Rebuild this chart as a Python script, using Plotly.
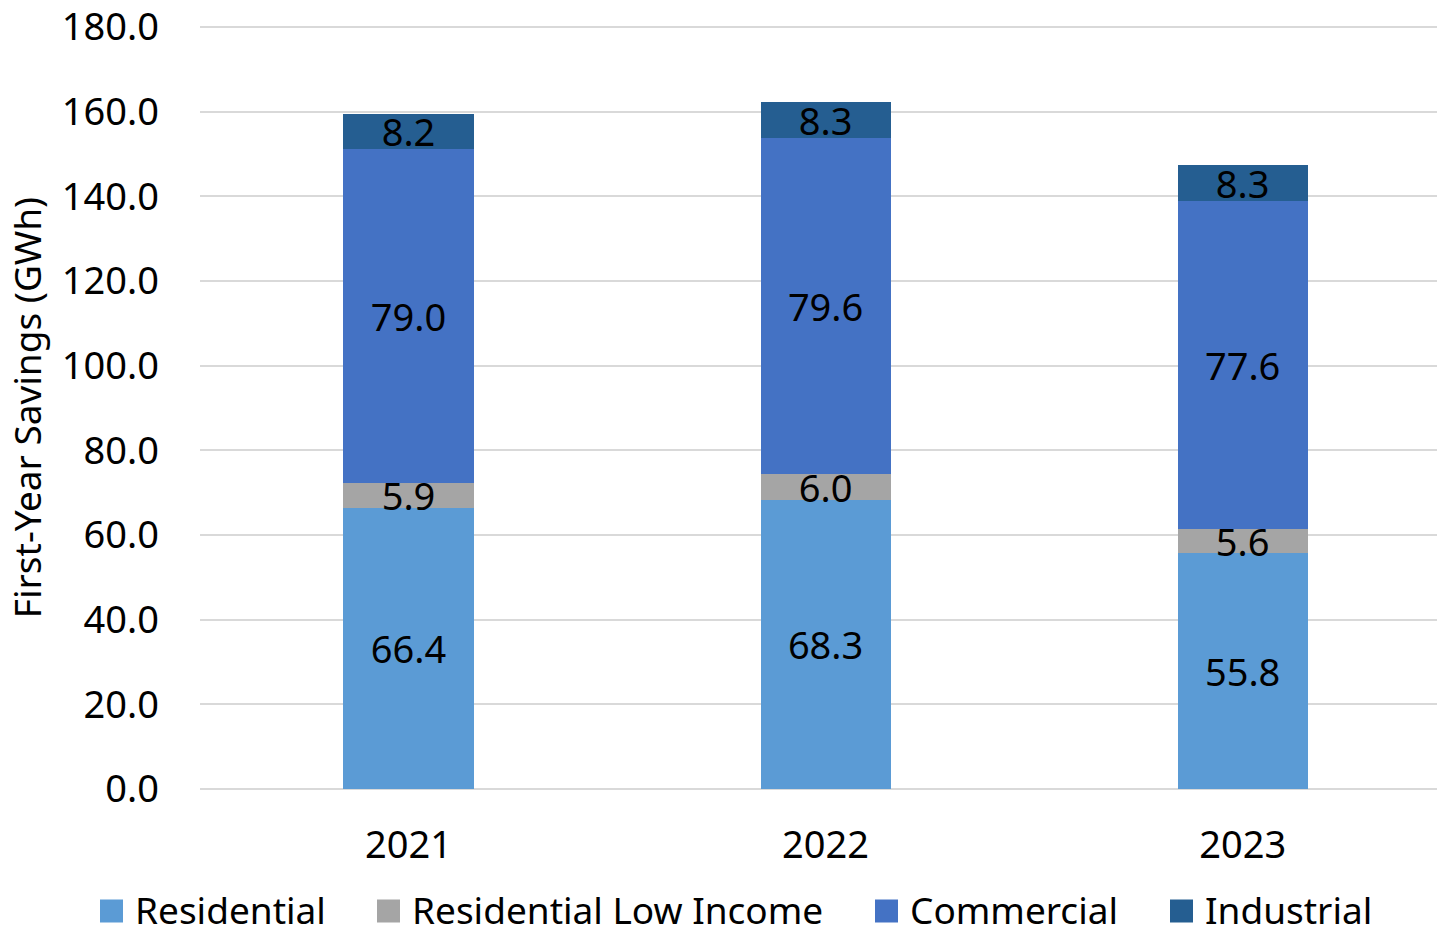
import plotly.graph_objects as go

# Program years and first-year savings by sector (GWh)
years = ["2021", "2022", "2023"]
residential = [66.4, 68.3, 55.8]
residential_low_income = [5.9, 6.0, 5.6]
commercial = [79.0, 79.6, 77.6]
industrial = [8.2, 8.3, 8.3]

y_ticks = [0, 20, 40, 60, 80, 100, 120, 140, 160, 180]

FONT = "Noto Sans"
W, H = 1437, 935
M_L, M_R, M_T, M_B = 200, 0, 26, 146
PLOT_W = W - M_L - M_R
PLOT_H = H - M_T - M_B

series = [
    ("Residential", residential, "#5B9BD5"),
    ("Residential Low Income", residential_low_income, "#A5A5A5"),
    ("Commercial", commercial, "#4472C4"),
    ("Industrial", industrial, "#255E91"),
]

fig = go.Figure()
for name, values, color in series:
    fig.add_trace(go.Bar(
        name=name,
        x=years,
        y=values,
        width=0.312,
        marker=dict(color=color, line=dict(width=0)),
        texttemplate="%{y:.1f}",
        textposition="inside",
        insidetextanchor="middle",
        textangle=0,
        textfont=dict(family=FONT, size=38, color="black"),
        showlegend=False,
    ))


def px_to_paper_x(px):
    return (px - M_L) / PLOT_W


def px_to_paper_y(py):
    return (H - M_B - py) / PLOT_H


# Legend row below the axis: a colour swatch followed by the series name
legend_swatch_left = [100, 377, 875, 1170]
legend_center_y = 909
swatch = 23
for (name, _, color), left in zip(series, legend_swatch_left):
    fig.add_shape(
        type="rect", xref="paper", yref="paper",
        x0=px_to_paper_x(left), x1=px_to_paper_x(left + swatch),
        y0=px_to_paper_y(legend_center_y + 2 + swatch / 2),
        y1=px_to_paper_y(legend_center_y + 2 - swatch / 2),
        fillcolor=color, line=dict(width=0), layer="above",
    )
    fig.add_annotation(
        text=name, xref="paper", yref="paper",
        x=px_to_paper_x(left + swatch + 11), y=px_to_paper_y(legend_center_y),
        xanchor="left", yanchor="middle", showarrow=False,
        font=dict(family=FONT, size=37, color="black"),
        borderpad=0,
    )

fig.update_layout(
    barmode="stack",
    width=W,
    height=H,
    margin=dict(l=M_L, r=M_R, t=M_T, b=M_B),
    paper_bgcolor="white",
    plot_bgcolor="white",
    font=dict(family=FONT, size=38, color="black"),
    uniformtext=dict(mode="show", minsize=38),
    showlegend=False,
    xaxis=dict(
        range=[-0.5, 2.466],
        showgrid=False,
        showline=False,
        zeroline=False,
        ticks="",
        ticklabelstandoff=30,
        tickfont=dict(family=FONT, size=38),
        automargin=False,
    ),
    yaxis=dict(
        range=[0, 180.25],
        tickvals=y_ticks,
        ticktext=[f"{v:.1f}" for v in y_ticks],
        showgrid=True,
        gridcolor="#D9D9D9",
        gridwidth=2,
        zeroline=True,
        zerolinecolor="#D9D9D9",
        zerolinewidth=2,
        showline=False,
        ticks="",
        ticklabelstandoff=40,
        ticklabeloverflow="allow",
        tickfont=dict(family=FONT, size=38),
        title=dict(text="First-Year Savings (GWh)", font=dict(family=FONT, size=37), standoff=8),
        automargin=False,
    ),
)

fig.write_html("out.html")
